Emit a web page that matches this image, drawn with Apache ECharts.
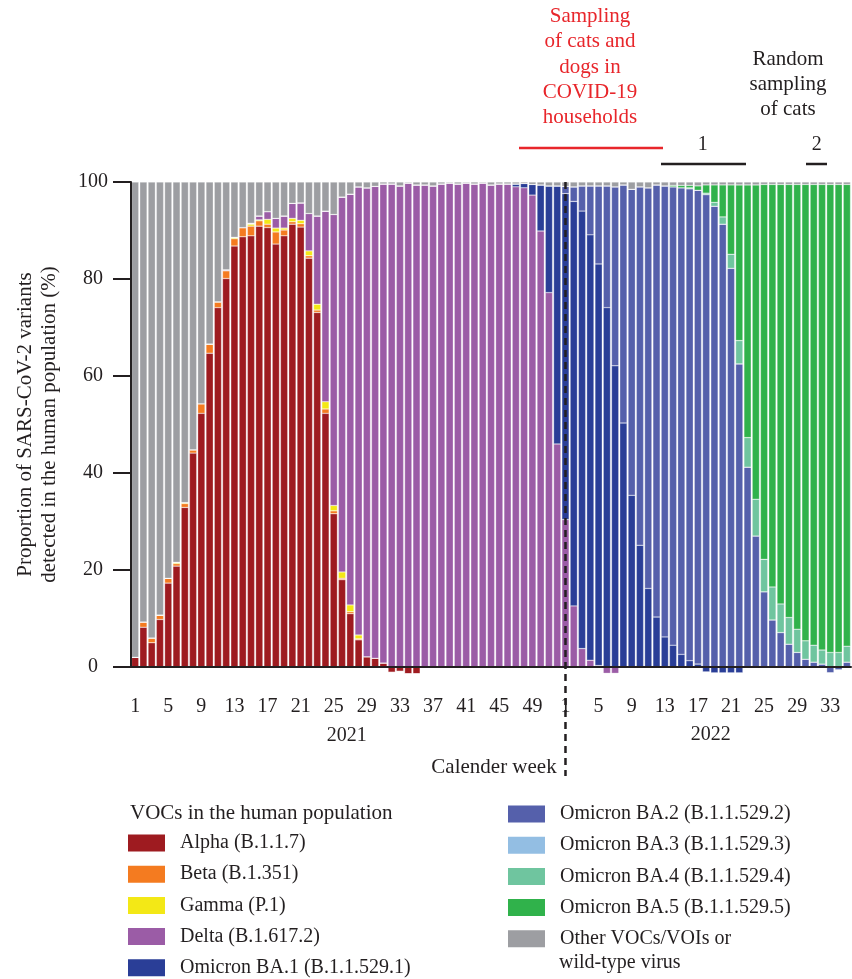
<!DOCTYPE html>
<html><head><meta charset="utf-8">
<script src="https://cdn.jsdelivr.net/npm/echarts@6/dist/echarts.min.js"></script>
<style>html,body{margin:0;padding:0;background:#fff}#c{width:852px;height:979px}</style>
</head><body><div id="c"></div>
<script>
// ---- categories (calendar weeks) ----
const weeks2021 = [1,2,3,4,5,6,7,8,9,10,11,12,13,14,15,16,17,18,19,20,21,22,23,24,25,26,27,28,29,30,31,32,33,34,35,36,37,38,39,40,41,42,43,44,45,46,47,48,49,50,51,52];
const weeks2022 = [1,2,3,4,5,6,7,8,9,10,11,12,13,14,15,16,17,18,19,20,21,22,23,24,25,26,27,28,29,30,31,32,33,34,35];
const yearLabels = ['2021', '2022'];
const yTicks = [0, 20, 40, 60, 80, 100];

// ---- series values (% of sequenced samples per week) ----
const alpha = [2.0,8.2,5.0,9.8,17.3,20.8,32.9,44.1,52.3,64.7,74.1,80.1,86.8,88.7,88.9,90.9,90.6,87.2,88.9,91.3,90.7,84.3,73.1,52.3,31.6,18.0,11.0,5.6,2.1,1.8,0.8,-1.1,-0.9,-1.4,-1.4,
  0,0,0,0,0,0,0,0,0,0,0,0,0,0,0,0,0,
  0,0,0,0,0,0,0,0,0,0,0,0,0,0,0,0,0,0,0,0,0,0,0,0,0,0,0,0,0,0,0,0,0,0,0];
const beta = [0,1.1,1.0,0.9,1.0,0.5,0.8,0.7,2.0,1.9,1.2,1.6,1.5,1.9,2.0,1.1,0.7,2.5,1.2,0.5,0.7,0.5,0.5,0.9,0.6,0.3,0.4,0.2,
  0,0,0,0,0,0,0,0,0,0,0,0,0,0,0,0,0,0,0,0,0,0,0,0,
  0,0,0,0,0,0,0,0,0,0,0,0,0,0,0,0,0,0,0,0,0,0,0,0,0,0,0,0,0,0,0,0,0,0,0];
const gamma = [0,0,0,0,0,0.3,0.2,0,0,0,0,0,0.3,0,0.4,0.2,1.0,0.8,0.4,0.7,0.7,1.0,1.2,1.5,1.1,1.3,1.4,0.8,
  0,0,0,0,0,0,0,0,0,0,0,0,0,0,0,0,0,0,0,0,0,0,0,0,
  0,0,0,0,0,0,0,0,0,0,0,0,0,0,0,0,0,0,0,0,0,0,0,0,0,0,0,0,0,0,0,0,0,0,0];
const delta = [0,0,0,0,0,0,0,0,0,0,0,
  0.2,0,0,0.2,0.8,1.6,2.0,2.5,3.1,3.6,
  7.7,18.2,39.3,60.0,77.3,84.7,92.4,96.7,97.3,98.8,
  99.6,99.2,99.8,99.4,99.4,99.2,99.6,99.8,99.6,99.8,
  99.6,99.8,99.4,99.6,99.6,99.0,98.8,97.3,89.9,77.2,
  46.0,
  30.4,12.6,3.8,1.4,0.3,-1.3,-1.3,
  0,0,0,0,0,0,0,0,0,0,0,0,0,0,0,0,0,0,0,0,0,0,0,0,0,0,0,0];
const ba1 = [0,0,0,0,0,0,0,0,0,0,0,0,0,0,0,0,0,0,0,0,0,0,0,0,0,0,0,0,0,0,0,0,0,0,0,0,0,0,0,0,0,0,0,0,0,0,
  0.6,0.9,2.2,9.5,22.0,53.2,
  67.2,83.4,90.2,87.7,82.8,74.1,62.1,50.3,35.4,25.1,16.2,10.3,6.2,4.5,2.6,1.3,0.6,-1.0,-1.2,-1.2,-1.2,-1.2,
  0,0,0,0,0,0,0,0,0,0,0,0,0];
const ba2 = [0,0,0,0,0,0,0,0,0,0,0,0,0,0,0,0,0,0,0,0,0,0,0,0,0,0,0,0,0,0,0,0,0,0,0,0,0,0,0,0,0,0,0,0,0,0,0,0,0,0,0,0,
  1.5,3.0,5.2,10.1,16.1,25.1,36.9,49.1,63.1,73.9,82.6,89.1,93.0,94.5,96.2,97.3,97.7,97.4,95.0,91.3,82.2,62.5,41.2,27.0,15.5,9.7,7.1,4.7,3.0,1.6,1.0,0.6,-1.2,-0.6,1.0];
const ba3 = [0,0,0,0,0,0,0,0,0,0,0,0,0,0,0,0,0,0,0,0,0,0,0,0,0,0,0,0,0,0,0,0,0,0,0,0,0,0,0,0,0,0,0,0,0,0,0,0,0,0,0,0,
  0,0,0,0,0,0,0,0,0,0,0,0,0,0,0,0,0,0,0,0,0,0,0,0,0,0,0,0,0,0,0,0,0,0,0];
const ba4 = [0,0,0,0,0,0,0,0,0,0,0,0,0,0,0,0,0,0,0,0,0,0,0,0,0,0,0,0,0,0,0,0,0,0,0,0,0,0,0,0,0,0,0,0,0,0,0,0,0,0,0,0,
  0,0,0,0,0,0,0,0,0,0,0,0,0,0,0,
  0.2,0,0.3,0.8,1.5,2.9,4.8,6.1,7.6,6.7,6.8,5.9,5.5,4.8,3.8,3.5,2.9,3.0,3.0,3.3];
const ba5 = [0,0,0,0,0,0,0,0,0,0,0,0,0,0,0,0,0,0,0,0,0,0,0,0,0,0,0,0,0,0,0,0,0,0,0,0,0,0,0,0,0,0,0,0,0,0,0,0,0,0,0,0,
  0,0,0,0,0,0,0,0,0,0,0,0,0,
  0.3,0.5,0.5,0.9,1.7,3.6,6.6,14.3,32.1,52.1,64.8,77.3,83.0,86.5,89.3,91.7,94.1,95.0,96.0,96.5,96.5,95.2];
const other = [98.0,90.7,94.0,89.3,81.7,78.4,66.1,55.2,45.7,33.4,
  24.7,18.1,11.4,9.4,8.5,7.0,6.1,7.5,7.0,4.4,
  4.3,6.5,7.0,6.0,6.7,3.1,2.5,1.0,1.2,0.9,
  0.4,0.4,0.8,0.2,0.6,0.6,0.8,0.4,0.2,0.4,
  0.2,0.4,0.2,0.6,0.4,0.4,0.4,0.3,0.5,0.6,
  0.8,0.8,
  0.9,1.0,0.8,0.8,0.8,0.8,1.0,0.6,1.5,1.0,
  1.2,0.6,0.8,0.7,0.7,0.7,0.8,0.6,0.6,0.6,
  0.6,0.6,0.6,0.6,0.5,0.5,0.5,0.5,0.5,0.5,
  0.5,0.5,0.5,0.5,0.5];

const seriesNames = ['Alpha (B.1.1.7)','Beta (B.1.351)','Gamma (P.1)','Delta (B.1.617.2)','Omicron BA.1 (B.1.1.529.1)',
  'Omicron BA.2 (B.1.1.529.2)','Omicron BA.3 (B.1.1.529.3)','Omicron BA.4 (B.1.1.529.4)','Omicron BA.5 (B.1.1.529.5)','Other VOCs/VOIs or'];
const seriesColors = ['#9e1b20','#f47b20','#f3e816','#9b5ca6','#2a3e97','#5560ab','#93bee3','#6fc59f','#30b24b','#9d9ea2'];
const seriesData = [alpha,beta,gamma,delta,ba1,ba2,ba3,ba4,ba5,other];

const categories = weeks2021.map(w => '2021-' + w).concat(weeks2022.map(w => '2022-' + w));

const FONT = '"Liberation Serif", "Times New Roman", serif';
const INK = '#231f20';

const chart = echarts.init(document.getElementById('c'), null, {renderer: 'canvas', width: 852, height: 979});

const legendText = {fontFamily: FONT, fontSize: 20, color: INK, lineHeight: 20, padding: [0, 0, 0, 10]};
const legendCommon = {orient: 'vertical', padding: 0, itemWidth: 37, itemHeight: 17, itemGap: 11.2,
  icon: 'rect', selectedMode: false, textStyle: legendText, itemStyle: {borderWidth: 0}};

const option = {
  animation: false,
  backgroundColor: '#fff',
  grid: {left: 131, right: 1, top: 182, bottom: 312},
  xAxis: {
    type: 'category', data: categories, boundaryGap: true, z: 5,
    axisLine: {lineStyle: {color: INK, width: 2}},
    axisTick: {alignWithLabel: true, interval: 3, length: 18, lineStyle: {color: INK, width: 2}},
    axisLabel: {interval: 3, formatter: v => v.split('-')[1], color: INK, fontFamily: FONT, fontSize: 20, margin: 30}
  },
  yAxis: {
    type: 'value', min: yTicks[0], max: yTicks[yTicks.length - 1], interval: 20, z: 5,
    axisLine: {show: true, lineStyle: {color: INK, width: 2}},
    axisTick: {show: true, length: 18, lineStyle: {color: INK, width: 2}},
    axisLabel: {color: INK, fontFamily: FONT, fontSize: 20, margin: 38, align: 'center'},
    splitLine: {show: false},
    name: 'Proportion of SARS-CoV-2 variants\ndetected in the human population (%)',
    nameLocation: 'middle', nameGap: 70, nameRotate: 90,
    nameTextStyle: {color: INK, fontFamily: FONT, fontSize: 21, lineHeight: 24}
  },
  legend: [
    Object.assign({}, legendCommon, {data: seriesNames.slice(0, 5), left: 128, top: 833}),
    Object.assign({}, legendCommon, {data: seriesNames.slice(5), left: 508, top: 804})
  ],
  series: seriesNames.map((n, k) => ({
    name: n, type: 'bar', stack: 'total', data: seriesData[k], clip: false,
    barCategoryGap: '12%',
    itemStyle: {color: seriesColors[k], borderColor: 'rgba(255,255,255,0.55)', borderWidth: 0.5},
    emphasis: {disabled: true}
  }))
};
chart.setOption(option);

// ---- annotations ----
const x2022w1 = chart.convertToPixel({xAxisIndex: 0}, categories.indexOf('2022-1'));
const txt = (x, y, text, extra) => ({type: 'text', x, y, silent: true,
  style: Object.assign({text, fill: INK, font: '21px ' + FONT, align: 'center', verticalAlign: 'middle'}, extra || {})});

chart.setOption({
  graphic: [
    {type: 'line', silent: true, z: 100, shape: {x1: x2022w1, y1: 182, x2: x2022w1, y2: 776},
      style: {stroke: INK, lineWidth: 2.5, lineDash: [7, 5]}},
    txt(346.7, 736, yearLabels[0], {font: '20px ' + FONT}),
    txt(710.7, 735, yearLabels[1], {font: '20px ' + FONT}),
    txt(494, 767, 'Calender week'),
    // sampling annotations
    txt(590, 4, 'Sampling\nof cats and\ndogs in\nCOVID-19\nhouseholds', {fill: '#e8262b', verticalAlign: 'top', lineHeight: 25.3}),
    {type: 'line', silent: true, shape: {x1: 519, y1: 148, x2: 663, y2: 148}, style: {stroke: '#e8262b', lineWidth: 2.5}},
    txt(788, 46.7, 'Random\nsampling\nof cats', {verticalAlign: 'top', lineHeight: 25.3}),
    txt(702.7, 145, '1', {font: '20px ' + FONT}),
    {type: 'line', silent: true, shape: {x1: 661, y1: 164, x2: 746, y2: 164}, style: {stroke: INK, lineWidth: 2.5}},
    txt(816.7, 145, '2', {font: '20px ' + FONT}),
    {type: 'line', silent: true, shape: {x1: 806, y1: 164, x2: 827, y2: 164}, style: {stroke: INK, lineWidth: 2.5}},
    // legend heading + second line of last legend entry
    txt(130, 813, 'VOCs in the human population', {align: 'left'}),
    txt(559, 963, 'wild-type virus', {align: 'left', font: '20px ' + FONT})
  ]
});
</script></body></html>
